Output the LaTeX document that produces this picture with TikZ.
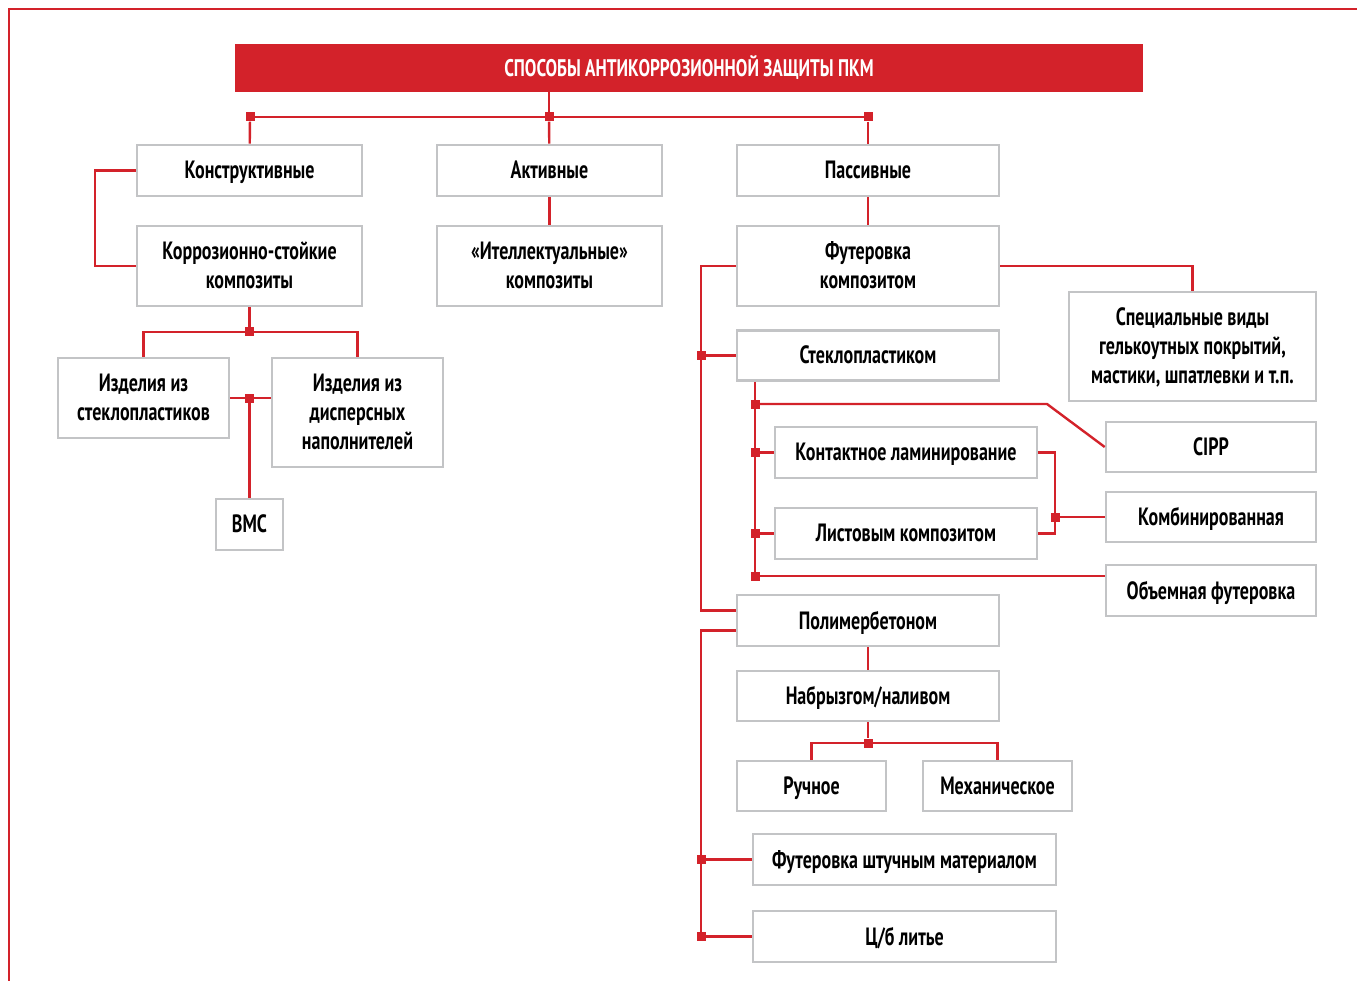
\documentclass[tikz,border=0pt]{standalone}
\usepackage{fontspec}
\setmainfont[FakeStretch=0.72]{PT Sans}
\usetikzlibrary{positioning}
\definecolor{pkmred}{HTML}{D3222A}
\definecolor{boxgray}{HTML}{C3C4C6}
\tikzstyle{box}=[draw=boxgray,line width=2.6pt,fill=white,rectangle,align=center,inner sep=2pt,text depth=1pt,font=\bfseries\fontsize{25}{29}\selectfont]
\tikzstyle{link}=[draw=pkmred,line width=2.4pt]
\tikzstyle{joint}=[fill=pkmred,rectangle,minimum size=9pt,inner sep=0pt]
\tikzstyle{title}=[fill=pkmred,text=white,rectangle,inner sep=0pt,font=\bfseries\fontsize{24}{24}\selectfont]

\begin{document}
\begin{tikzpicture}
	[x=1pt,y=-1pt]
	\useasboundingbox (0,0) rectangle (1357,981);
	\draw[pkmred,line width=1.4pt] (1357,9) -- (9,9) -- (9,981);
	% header
	\node (top) [title,minimum width=908pt,minimum height=48pt] at (689,68) {СПОСОБЫ АНТИКОРРОЗИОННОЙ ЗАЩИТЫ ПКМ};
	% first level
	\node (kon) [box,minimum width=225pt,minimum height=51pt] at (249.5,170.5) {Конструктивные};
	\node (act) [box,minimum width=225pt,minimum height=51pt] at (549.5,170.5) {Активные};
	\node (pas) [box,minimum width=262pt,minimum height=51pt] at (868,170.5) {Пассивные};
	\node (kor) [box,minimum width=225pt,minimum height=80pt] at (249.5,266) {Коррозионно-стойкие\\композиты};
	\node (int) [box,minimum width=225pt,minimum height=80pt] at (549.5,266) {«Ителлектуальные»\\композиты};
	\node (fut) [box,minimum width=262pt,minimum height=80pt] at (868,266) {Футеровка\\композитом};
	% left branch
	\node (izs) [box,minimum width=171pt,minimum height=80pt] at (143.5,398) {Изделия из\\стеклопластиков};
	\node (izd) [box,minimum width=171pt,minimum height=109pt] at (357.5,412.5) {Изделия из\\дисперсных\\наполнителей};
	\node (bmc) [box,minimum width=67pt,minimum height=51pt] at (249.5,524.5) {ВМС};
	% right branch
	\node (spec) [box,minimum width=247pt,minimum height=109pt] at (1192.5,346.5) {Специальные виды\\гелькоутных покрытий,\\мастики, шпатлевки и т.п.};
	\node (stp) [box,minimum width=262pt,minimum height=50pt] at (868,355.5) {Стеклопластиком};
	\node (cipp) [box,minimum width=210pt,minimum height=50pt] at (1211,447) {CIPP};
	\node (kla) [box,minimum width=262pt,minimum height=51pt] at (906,452.5) {Контактное ламинирование};
	\node (lst) [box,minimum width=262pt,minimum height=51pt] at (906,533.5) {Листовым композитом};
	\node (komb) [box,minimum width=210pt,minimum height=50pt] at (1211,517) {Комбинированная};
	\node (obf) [box,minimum width=210pt,minimum height=51pt] at (1211,590.5) {Объемная футеровка};
	\node (pbt) [box,minimum width=262pt,minimum height=51pt] at (868,620.5) {Полимербетоном};
	\node (nab) [box,minimum width=262pt,minimum height=50pt] at (868,696) {Набрызгом/наливом};
	\node (ruc) [box,minimum width=149pt,minimum height=50pt] at (811.5,786) {Ручное};
	\node (meh) [box,minimum width=149pt,minimum height=50pt] at (997.5,786) {Механическое};
	\node (fsm) [box,minimum width=303pt,minimum height=51pt] at (904.5,859.5) {Футеровка штучным материалом};
	\node (lit) [box,minimum width=303pt,minimum height=51pt] at (904.5,936.5) {Ц/б литье};
	% junctions
	\node (j1) [joint] at (250,117) {};
	\node (j2) [joint] at (549,117) {};
	\node (j3) [joint] at (868,117) {};
	\node (j4) [joint] at (249.5,332) {};
	\node (j5) [joint] at (249.5,398) {};
	\node (j6) [joint] at (701,355.5) {};
	\node (c1) [joint] at (755,404) {};
	\node (c2) [joint] at (755,452.5) {};
	\node (c3) [joint] at (755,533.5) {};
	\node (c4) [joint] at (755,576) {};
	\node (c5) [joint] at (1055,517) {};
	\node (n1) [joint] at (868,743) {};
	\node (f1) [joint] at (701,859.5) {};
	\node (f2) [joint] at (701,936.5) {};
	\coordinate (cb) at (1047,404);
	% connectors
	\path[link]
		(top.south -| j2) edge (j2)
		(j1.center) edge (j3.center)
		(j1) edge (kon)
		(j2) edge (act)
		(j3) edge (pas)
		(act) edge (int)
		(pas) edge (fut)
		(kor) edge (j4)
		(j5) edge (bmc)
		(j6) edge (stp)
		(c2) edge (kla)
		(c3) edge (lst)
		(c5) edge (komb)
		(pbt) edge (nab)
		(nab) edge (n1)
		(f1) edge (fsm)
		(f2) edge (lit);
	\draw[link] (kon.west) -- ++(-41,0) |- (kor.west);
	\draw[link] (izs.north) |- (j4.center) -| (izd.north);
	\draw[link] (izs.east |- j5) -- (izd.west |- j5);
	\draw[link] (fut.east) -| (spec.north);
	\draw[link] (fut.west) -- (fut.west -| j6) |- ([yshift=10pt]pbt.west);
	\draw[link] ([yshift=-10pt]pbt.west) -- ([yshift=-10pt]pbt.west -| f2) -- (f2.center);
	\draw[link] (stp.south -| c1) -- (c4.center);
	\draw[link] (c1.center) -- (cb) -- (cipp.west);
	\draw[link] (c4.center) -- (c4 -| obf.west);
	\draw[link] (kla.east) -| (c5.center) |- (lst.east);
	\draw[link] (ruc.north) |- (n1.center) -| (meh.north);
\end{tikzpicture}
\end{document}
